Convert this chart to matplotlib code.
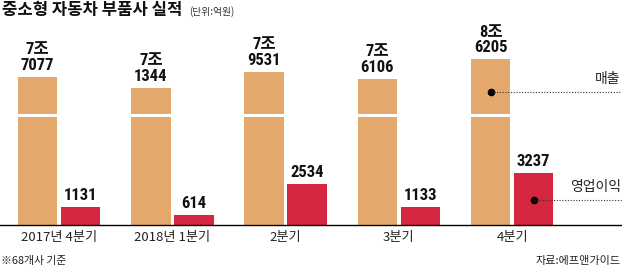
import matplotlib
matplotlib.use("Agg")
import matplotlib.pyplot as plt
import numpy as np
from matplotlib.transforms import blended_transform_factory
from matplotlib.patches import Rectangle

# ---- data (단위: 억원) ----
categories = ["2017년 4분기", "2018년 1분기", "2분기", "3분기", "4분기"]
sales = [77077, 71344, 79531, 76106, 86205]          # 매출
profit = [1131, 614, 2534, 1133, 3237]               # 영업이익
title = "중소형 자동차 부품사 실적"
unit = "(단위:억원)"
note = "※68개사 기준"
source = "자료:에프앤가이드"
sales_name = "매출"
profit_name = "영업이익"

ORANGE = "#E4A86C"
RED = "#D7263F"
KR = ["Noto Sans CJK KR", "DejaVu Sans"]
NUM = ["Roboto Condensed", "Noto Sans CJK KR", "DejaVu Sans"]

W, H = 622, 274
fig = plt.figure(figsize=(W / 100, H / 100), dpi=100)
fig.patch.set_facecolor("white")

base_px, top_px = 225, 40
ax = fig.add_axes([0, (H - base_px) / H, 1, (base_px - top_px) / H])
ax2 = ax.twinx()

x = np.arange(len(categories))
bw = 0.349
off = 0.1894

# sales bars (on ax2), profit bars (on ax)
sb = ax2.bar(x - off, sales, width=bw, color=ORANGE, zorder=2)
pb = ax.bar(x + off, profit, width=bw, color=RED, zorder=2)

ax.set_xlim(-0.522, 4.970)
ax.set_ylim(0, 11455)
ax2.set_ylim(0, 96254)
ax.set_zorder(ax2.get_zorder() + 1)
ax.patch.set_visible(False)

# axis break on the sales bars
trans2 = blended_transform_factory(ax2.transData, ax2.transAxes)
for xi in x:
    ax2.add_patch(Rectangle((xi - off - bw / 2 - 0.01, 0.582), bw + 0.02, 0.018,
                            transform=trans2, facecolor="white", edgecolor="none", zorder=3))

for a in (ax, ax2):
    for s in a.spines.values():
        s.set_visible(False)
    a.tick_params(left=False, right=False, labelleft=False, labelright=False)
ax2.tick_params(bottom=False, labelbottom=False)
ax.spines["bottom"].set_visible(True)
ax.spines["bottom"].set_linewidth(1.0)
ax.spines["bottom"].set_color("black")
ax.set_xticks(x)
ax.set_xticklabels(categories, family=KR, fontsize=9.5, color="#222222")
ax.tick_params(axis="x", length=0, pad=4)

# value labels
for xi, v in zip(x, sales):
    ax2.annotate(f"{v // 10000}조\n{v % 10000}", (xi - off, v), xytext=(0, 3),
                 textcoords="offset points", ha="center", va="bottom",
                 family=NUM, fontsize=12, fontweight="bold", linespacing=1.05,
                 color="#111111", zorder=5)
for xi, v in zip(x, profit):
    ax.annotate(f"{v}", (xi + off, v), xytext=(0, 3),
                textcoords="offset points", ha="center", va="bottom",
                family=NUM, fontsize=12, fontweight="bold", color="#111111", zorder=5)

# series call-outs on the last group
transA = blended_transform_factory(ax.transData, ax.transAxes)
last = x[-1]
for xc, yy, ylab, name in [(last - off, 0.719, 0.790, sales_name),
                           (last + off, 0.135, 0.207, profit_name)]:
    ax.plot([xc], [yy], "o", color="black", markersize=4.5, transform=transA, zorder=6, clip_on=False)
    ax.plot([xc, 4.97], [yy, yy], linestyle=(0, (1, 1.5)), color="#333333",
            linewidth=0.8, transform=transA, zorder=6, clip_on=False)
    ax.text(0.998, ylab, name, transform=ax.transAxes, ha="right", va="center",
            family=KR, fontsize=10, color="#222222")

# texts
fig.text(0.004, 1 - 0.5 / H, title, ha="left", va="top", family=KR,
         fontsize=12, fontweight="bold", color="#111111")
fig.text(189 / W, 1 - 12 / H, unit, ha="left", va="center", family=KR,
         fontsize=7, color="#333333")
fig.text(0.002, 1 - 261 / H, note, ha="left", va="center", family=KR,
         fontsize=7.8, color="#222222")
fig.text(0.998, 1 - 261 / H, source, ha="right", va="center", family=KR,
         fontsize=8, color="#222222")

fig.savefig("out.png", dpi=100, facecolor="white")
